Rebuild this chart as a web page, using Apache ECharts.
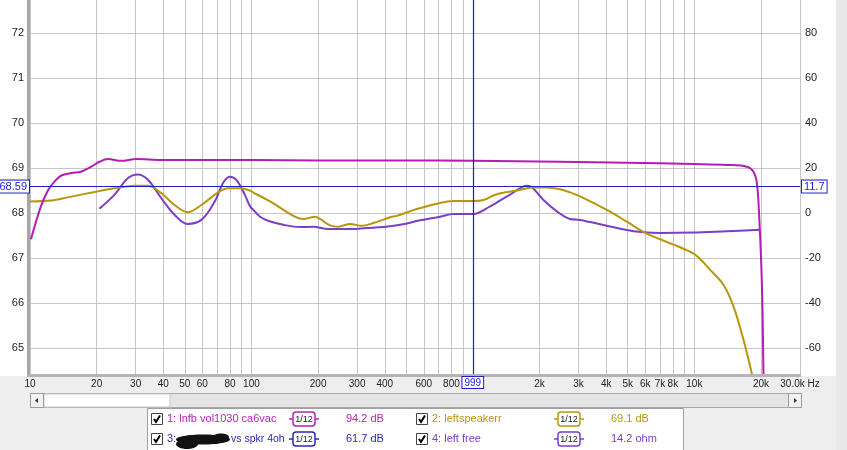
<!DOCTYPE html>
<html><head><meta charset="utf-8">
<script src="https://cdn.jsdelivr.net/npm/echarts@6/dist/echarts.min.js"></script>
<style>html,body{margin:0;padding:0;background:#fff}#c{width:847px;height:450px}</style>
</head><body><div id="c"></div>
<script>
// ---- data (frequency in Hz, level on the left axis) ----
const magentaFreq = [10.1, 11.2, 12.1, 12.9, 13.8, 15.4, 17.0, 18.9, 20.6, 22.5, 25.8, 30.2, 39.2, 60, 100, 200, 500, 1000, 2477, 4956, 9906, 14020, 17260, 18490, 19160, 19630, 20180, 20520, 20600];
const magentaVals = [67.42, 68.15, 68.52, 68.70, 68.83, 68.89, 68.92, 69.03, 69.14, 69.20, 69.16, 69.20, 69.18, 69.18, 69.18, 69.17, 69.17, 69.16, 69.14, 69.12, 69.09, 69.07, 69.03, 68.92, 68.67, 67.92, 66.45, 64.44, 63.8];

const goldFreq = [10, 12.5, 14.8, 19.6, 24.1, 29.7, 34.1, 39.2, 45.0, 51.4, 59.4, 70.7, 78.4, 88.6, 98.6, 103.5, 121.3, 154.6, 171.6, 193.8, 204.1, 226.5, 247, 278.8, 315, 355.3, 422.7, 453.2, 558, 687, 816, 1005, 1115, 1282, 1579, 1877, 2157, 2477, 2748, 3050, 4025, 4956, 5995, 7005, 8047, 8930, 10260, 11790, 13530, 15020, 16670, 18180, 18600];
const goldVals = [68.26, 68.28, 68.35, 68.47, 68.55, 68.61, 68.61, 68.44, 68.18, 68.02, 68.18, 68.46, 68.55, 68.55, 68.50, 68.44, 68.26, 67.94, 67.87, 67.92, 67.87, 67.73, 67.70, 67.76, 67.72, 67.78, 67.91, 67.94, 68.09, 68.21, 68.27, 68.27, 68.29, 68.42, 68.50, 68.57, 68.57, 68.53, 68.46, 68.37, 68.07, 67.81, 67.56, 67.42, 67.30, 67.21, 67.05, 66.74, 66.41, 65.93, 65.19, 64.44, 64.2];

const purpleFreq = [20.6, 24.1, 27.7, 30.7, 34.1, 39.2, 45.0, 51.4, 59.4, 68.3, 74.4, 79.8, 85.5, 93.3, 98.6, 103.5, 109.4, 118.9, 139.4, 165.8, 190.4, 218.8, 278.8, 331.8, 394.3, 469.1, 577.4, 711, 816, 1005, 1196, 1472, 1752, 1845, 2083, 2393, 2748, 3050, 4025, 5308, 7005, 9906, 14020, 19830];
const purpleVals = [68.10, 68.41, 68.78, 68.86, 68.74, 68.33, 67.96, 67.76, 67.85, 68.26, 68.67, 68.81, 68.74, 68.41, 68.15, 68.04, 67.92, 67.83, 67.74, 67.69, 67.70, 67.65, 67.65, 67.67, 67.69, 67.74, 67.84, 67.92, 67.98, 67.98, 68.15, 68.41, 68.61, 68.58, 68.29, 68.04, 67.87, 67.85, 67.72, 67.60, 67.56, 67.57, 67.60, 67.63];

// ---- axes ----
const xRange = [10, 30000];
// the 1 kHz grid line is hidden under the cursor in the reference
const xGridTicks = [10,20,30,40,50,60,70,80,90,100,200,300,400,500,600,700,800,900,2000,3000,4000,5000,6000,7000,8000,9000,10000,20000,30000];
const xLabelTicks = [10,20,30,40,50,60,80,100,200,300,400,600,800,2000,3000,4000,5000,6000,7000,8000,10000,20000,30000];
const leftRange = [64.43, 72.73];
const leftTicks = [65,66,67,68,69,70,71,72];
const rightRange = [-71.4, 94.6];
const rightTicks = [-60,-40,-20,0,20,40,60,80];

// ---- cursor ----
const cursorFreq = 999;
const cursorLevel = 68.59;
const cursorRightLabel = '11.7';

// ---- legend ----
const legendNames = ['1: lnfb vol1030 ca6vac', '2: leftspeakerr', '3: ', '4: left free'];
const legendNameTail = ['', '', 'vs spkr 4oh', ''];
const legendValues = ['94.2 dB', '69.1 dB', '61.7 dB', '14.2 ohm'];
const legendColors = ['#b823b8', '#b8960c', '#2a2ab4', '#7b3ec6'];

const C_MAG = '#b41cb4', C_GOLD = '#b8960c', C_PURP = '#7b3ec6', C_CUR = '#1c1cd0';
const FONT = "'Liberation Sans', Arial, sans-serif";

const zip = (a, b) => a.map((v, i) => [v, b[i]]);

function fmtX(v) {
  if (v === 30000) return '30.0k Hz';
  if (v >= 1000) return (v / 1000) + 'k';
  return String(v);
}

const graphics = [];
// backgrounds
graphics.push({type: 'rect', z: -10, shape: {x: 0, y: 376, width: 847, height: 74}, style: {fill: '#eeeeee'}});
graphics.push({type: 'rect', z: -10, shape: {x: 836, y: 0, width: 11, height: 450}, style: {fill: '#e8e8e8'}});
// plot frame shadow
graphics.push({type: 'rect', z: 5, shape: {x: 27, y: 0, width: 3, height: 377}, style: {fill: '#a6a6a6'}});
graphics.push({type: 'rect', z: 5, shape: {x: 27, y: 374, width: 774, height: 3}, style: {fill: '#b4b4b4'}});
// scrollbar
graphics.push({type: 'rect', shape: {x: 30.5, y: 393.5, width: 771, height: 14}, style: {fill: '#e4e4e4', stroke: '#a8a8a8', lineWidth: 1}});
graphics.push({type: 'rect', shape: {x: 44, y: 394, width: 126, height: 13}, style: {fill: '#ffffff', stroke: '#c8c8c8'}});
graphics.push({type: 'rect', shape: {x: 30.5, y: 393.5, width: 13, height: 14}, style: {fill: '#f2f2f2', stroke: '#9c9c9c'}});
graphics.push({type: 'polygon', shape: {points: [[35, 400.5], [38, 398], [38, 403]]}, style: {fill: '#333'}});
graphics.push({type: 'rect', shape: {x: 788.5, y: 393.5, width: 13, height: 14}, style: {fill: '#f2f2f2', stroke: '#9c9c9c'}});
graphics.push({type: 'polygon', shape: {points: [[797, 400.5], [794, 398], [794, 403]]}, style: {fill: '#333'}});
// legend box
graphics.push({type: 'rect', shape: {x: 147.5, y: 408.5, width: 536, height: 50}, style: {fill: '#ffffff', stroke: '#a0a0a0', lineWidth: 1}});

const colX = [151, 416];
const rowY = [419, 439];
for (let i = 0; i < 4; i++) {
  const x0 = colX[i % 2], yc = rowY[Math.floor(i / 2)], col = legendColors[i];
  graphics.push({type: 'rect', shape: {x: x0 + 0.5, y: yc - 5.5, width: 11, height: 11}, style: {fill: '#fff', stroke: '#444', lineWidth: 1}});
  graphics.push({type: 'polyline', shape: {points: [[x0 + 3, yc], [x0 + 5, yc + 3], [x0 + 9, yc - 3.5]]}, style: {stroke: '#000', lineWidth: 2, fill: null}});
  graphics.push({type: 'text', style: {x: x0 + 16, y: yc, text: legendNames[i], fill: col, font: '11px ' + FONT, verticalAlign: 'middle'}});
  if (legendNameTail[i]) {
    graphics.push({type: 'text', style: {x: 231, y: yc, text: legendNameTail[i], fill: col, font: '10.5px ' + FONT, verticalAlign: 'middle'}});
  }
  const cx = x0 + 153;
  graphics.push({type: 'line', shape: {x1: cx - 15, y1: yc, x2: cx + 15, y2: yc}, style: {stroke: col, lineWidth: 1.5}});
  graphics.push({type: 'rect', shape: {x: cx - 11, y: yc - 7, width: 22, height: 14, r: 3}, style: {fill: '#fff', stroke: col, lineWidth: 1.5}});
  graphics.push({type: 'text', style: {x: cx, y: yc + 0.5, text: '1/12', fill: '#222', font: '9px ' + FONT, align: 'center', verticalAlign: 'middle'}});
  graphics.push({type: 'text', style: {x: x0 + 195, y: yc, text: legendValues[i], fill: col, font: '11px ' + FONT, verticalAlign: 'middle'}});
}
// scribble that hides part of legend entry 3
graphics.push({type: 'ellipse', z: 10, shape: {cx: 203, cy: 439.5, rx: 27, ry: 5}, style: {fill: '#111'}});
graphics.push({type: 'ellipse', z: 10, shape: {cx: 187, cy: 444, rx: 11, ry: 5}, style: {fill: '#111'}});
graphics.push({type: 'ellipse', z: 10, shape: {cx: 221, cy: 437, rx: 8, ry: 3.5}, style: {fill: '#111'}});

const lineSeries = (name, freq, vals, color) => ({
  name, type: 'line', data: zip(freq, vals), xAxisIndex: 0, yAxisIndex: 0,
  showSymbol: false, symbol: 'none', smooth: 0.35, clip: true,
  lineStyle: {color, width: 2}, itemStyle: {color}
});

const curLine = {color: C_CUR, width: 1.2, type: 'solid', opacity: 1};
const curLabel = {color: C_CUR, fontSize: 10, fontFamily: FONT, backgroundColor: '#fff', borderColor: C_CUR, borderWidth: 1, padding: [1, 2, 0, 2]};

const chart = echarts.init(document.getElementById('c'), null, {renderer: 'canvas'});
chart.setOption({
  animation: false,
  backgroundColor: '#ffffff',
  grid: {left: 30, right: 47, top: 0, bottom: 76, show: true, backgroundColor: '#ffffff', borderWidth: 0},
  xAxis: {
    type: 'log', logBase: 10, min: xRange[0], max: xRange[1],
    axisLine: {show: false},
    axisTick: {show: false, customValues: xGridTicks},
    splitLine: {show: true, lineStyle: {color: '#c6c6c6', width: 1}},
    axisLabel: {customValues: xLabelTicks, formatter: fmtX, margin: 5, fontSize: 10, color: '#222', fontFamily: FONT}
  },
  yAxis: [{
    type: 'value', position: 'left', min: leftRange[0], max: leftRange[1],
    axisLine: {show: false},
    axisTick: {show: false, customValues: leftTicks},
    splitLine: {show: true, lineStyle: {color: '#c6c6c6', width: 1}},
    axisLabel: {customValues: leftTicks, margin: 6, fontSize: 11, color: '#222', fontFamily: FONT}
  }, {
    type: 'value', position: 'right', min: rightRange[0], max: rightRange[1],
    axisLine: {show: false},
    axisTick: {show: false, customValues: rightTicks},
    splitLine: {show: false},
    axisLabel: {customValues: rightTicks, margin: 5, fontSize: 11, color: '#222', fontFamily: FONT}
  }],
  series: [
    Object.assign(lineSeries('4: left free', purpleFreq, purpleVals, C_PURP), {
      markLine: {
        silent: true, symbol: 'none', animation: false,
        lineStyle: curLine, label: curLabel,
        data: [
          {xAxis: cursorFreq, lineStyle: curLine, label: {position: 'start', distance: 3, formatter: String(cursorFreq)}}
        ]
      }
    }),
    lineSeries('2: leftspeakerr', goldFreq, goldVals, C_GOLD),
    Object.assign(lineSeries('1: lnfb vol1030 ca6vac', magentaFreq, magentaVals, C_MAG), {
      markLine: {
        silent: true, symbol: 'none', animation: false,
        lineStyle: curLine, label: curLabel,
        data: [
          {yAxis: cursorLevel, lineStyle: curLine, label: {position: 'start', distance: 1, fontSize: 11, formatter: cursorLevel.toFixed(2)}},
          {yAxis: cursorLevel, lineStyle: curLine, label: {position: 'end', distance: 2, fontSize: 11, formatter: cursorRightLabel}}
        ]
      }
    })
  ],
  graphic: {elements: graphics}
});
</script>
</body></html>
